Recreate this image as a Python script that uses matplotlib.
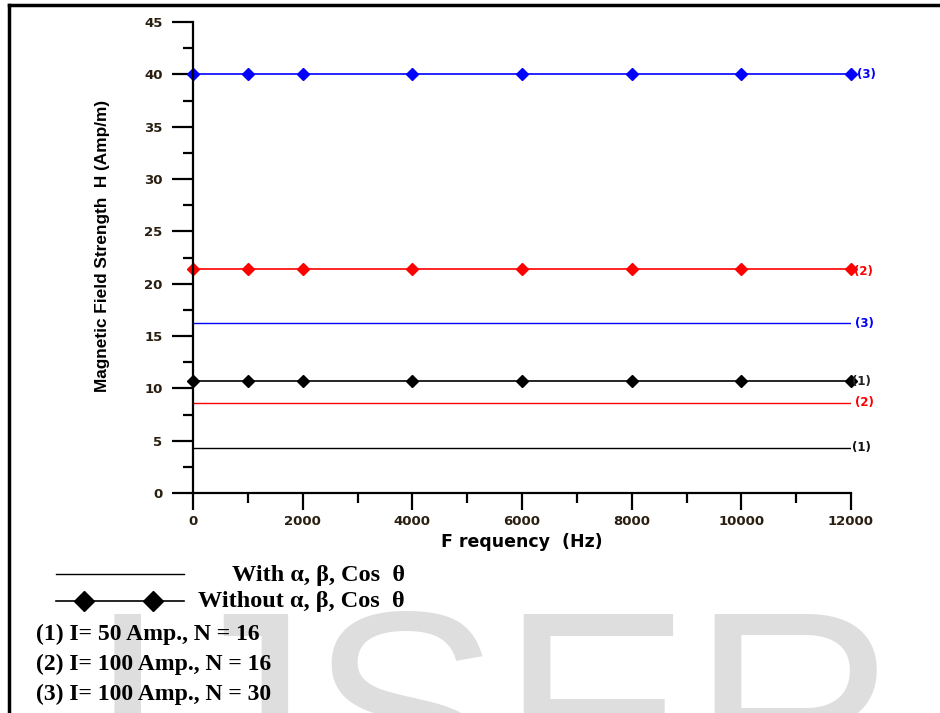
import numpy as np
import matplotlib
matplotlib.use('Agg')
import matplotlib.pyplot as plt
from matplotlib.lines import Line2D
from matplotlib.ticker import MultipleLocator

# data
freq = [0, 1000, 2000, 4000, 6000, 8000, 10000, 12000]
without_1 = [10.7] * len(freq)
without_2 = [21.4] * len(freq)
without_3 = [40.0] * len(freq)
with_1 = [4.3] * len(freq)
with_2 = [8.6] * len(freq)
with_3 = [16.2] * len(freq)
case_labels = ['(1) I= 50 Amp., N = 16',
               '(2) I= 100 Amp., N = 16',
               '(3) I= 100 Amp., N = 30']

W, H = 940, 713
fig = plt.figure(figsize=(W / 100, H / 100), dpi=100)
ax = fig.add_axes([193 / W, 1 - 493 / H, 658 / W, 471 / H])

def fx(px):
    return px / W

def fy(py):
    return 1 - py / H

# watermark behind everything
fig.text(fx(88), fy(811), 'IJSER', fontsize=206, color='#dedede',
         family='Liberation Sans', ha='left', va='baseline', zorder=0)

# "with" lines (no markers)
ax.plot(freq, with_1, color='black', lw=1.0)
ax.plot(freq, with_2, color='#ff0000', lw=1.0)
ax.plot(freq, with_3, color='#0000ff', lw=1.0)
# "without" lines (diamond markers)
mk = dict(marker='D', markersize=6.5, lw=1.2, clip_on=False)
ax.plot(freq, without_1, color='black', **mk)
ax.plot(freq, without_2, color='#ff0000', **mk)
ax.plot(freq, without_3, color='#0000ff', **mk)

# curve labels at the right end
lab = dict(fontsize=8.5, fontweight='bold', va='center', ha='left',
           textcoords='offset points', annotation_clip=False)
ax.annotate('(3)', (freq[-1], without_3[-1]), xytext=(4, 0), color='#0000ff', **lab)
ax.annotate('(2)', (freq[-1], without_2[-1]), xytext=(2, -2), color='#ff0000', **lab)
ax.annotate('(3)', (freq[-1], with_3[-1]), xytext=(3, 0), color='#0000ff', **lab)
ax.annotate('(1)', (freq[-1], without_1[-1]), xytext=(1, 0), color='#222222', **lab)
ax.annotate('(2)', (freq[-1], with_2[-1]), xytext=(3, 0), color='#ff0000', **lab)
ax.annotate('(1)', (freq[-1], with_1[-1]), xytext=(1, 0), color='#111111', **lab)

ax.set_xlim(0, 12000)
ax.set_ylim(0, 45)
ax.xaxis.set_major_locator(MultipleLocator(2000))
ax.xaxis.set_minor_locator(MultipleLocator(1000))
ax.yaxis.set_major_locator(MultipleLocator(5))
ax.yaxis.set_minor_locator(MultipleLocator(2.5))
for s in ['top', 'right']:
    ax.spines[s].set_visible(False)
for s in ['left', 'bottom']:
    ax.spines[s].set_linewidth(1.6)
ax.tick_params(axis='y', which='major', direction='out', length=15, width=1.6, pad=7)
ax.tick_params(axis='x', which='major', direction='out', length=12, width=1.6, pad=4)
ax.tick_params(which='minor', direction='out', length=7, width=1.6)
for t in ax.get_xticklabels() + ax.get_yticklabels():
    t.set_fontweight('bold')
    t.set_fontsize(9.5)
    t.set_color('#2a1e10')

ax.set_xlabel('F requency  (Hz)', fontsize=12.5, fontweight='bold', va='top')
ax.xaxis.set_label_coords(0.5, -0.085)
ax.set_ylabel('Magnetic Field Strength  H (Amp/m)', fontsize=12.4, fontweight='bold',
              family='Liberation Sans')
ax.yaxis.set_label_coords(-0.126, 0.524)

# manual legend below the axes
fig.add_artist(Line2D([fx(56), fx(184)], [fy(574), fy(574)], color='black', lw=1.0))
fig.add_artist(Line2D([fx(56), fx(184)], [fy(601), fy(601)], color='black', lw=1.2))
fig.add_artist(Line2D([fx(84), fx(153)], [fy(601), fy(601)], color='black', lw=0,
                      marker='D', markersize=10))
serif = dict(family='Liberation Serif', fontweight='bold', fontsize=17.5, ha='right', va='center')
fig.text(fx(405), fy(576), 'With α, β, Cos  θ', **serif)
fig.text(fx(405), fy(602), 'Without α, β, Cos  θ', **serif)
for i, txt in enumerate(case_labels):
    fig.text(fx(36), fy(634 + 30 * i), txt, family='Liberation Serif', fontweight='bold',
             fontsize=17, ha='left', va='center')

# outer frame (left and top edges)
fig.add_artist(Line2D([fx(9), fx(9)], [fy(5), 0], color='black', lw=2.5))
fig.add_artist(Line2D([fx(9), 1], [fy(5), fy(5)], color='black', lw=2.5))

fig.savefig('out.png', dpi=100)
